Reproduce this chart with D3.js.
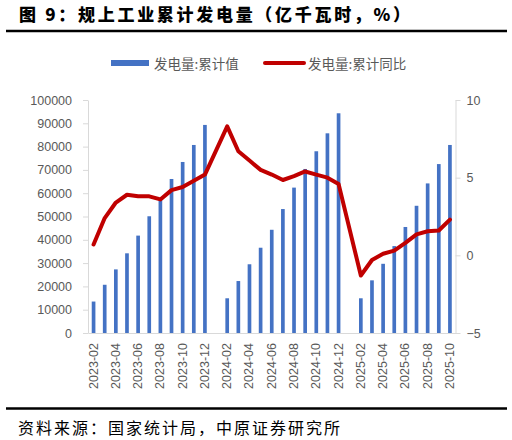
<!DOCTYPE html>
<html>
<head>
<meta charset="utf-8">
<script src="https://cdn.jsdelivr.net/npm/d3@7"></script>
<style>
  body { margin: 0; background: #fff; }
  svg { display: block; }
</style>
</head>
<body>
<div id="chart"></div>
<script>
// months on the category axis (January has no separate release)
const months = [
  "2023-02","2023-03","2023-04","2023-05","2023-06","2023-07","2023-08","2023-09","2023-10","2023-11","2023-12",
  "2024-01","2024-02","2024-03","2024-04","2024-05","2024-06","2024-07","2024-08","2024-09","2024-10","2024-11","2024-12",
  "2025-01","2025-02","2025-03","2025-04","2025-05","2025-06","2025-07","2025-08","2025-09","2025-10"
];
// 发电量:累计值 (亿千瓦时)
const cumValue = [
  13500, 20700, 27300, 34200, 41800, 50100, 57000, 66100, 73400, 80700, 89300,
  null, 14900, 22300, 29500, 36600, 44300, 53200, 62400, 70400, 78000, 85700, 94300,
  null, 14900, 22600, 29700, 37300, 45500, 54600, 64200, 72500, 80700
];
// 发电量:累计同比 (%)
const cumYoY = [
  0.7, 2.4, 3.4, 3.9, 3.8, 3.8, 3.6, 4.2, 4.4, 4.8, 5.2,
  null, 8.3, 6.7, 6.1, 5.5, 5.2, 4.85, 5.1, 5.4, 5.2, 5.0, 4.6,
  null, -1.3, -0.3, 0.1, 0.3, 0.8, 1.35, 1.55, 1.6, 2.3
];
const leftTicks = d3.range(0, 100001, 10000);
const rightTicks = [-5, 0, 5, 10];
const xTickLabels = months.filter((m, i) => i % 2 === 0);

const W = 512, H = 440;
const plot = { left: 88, right: 455.5, top: 100, bottom: 333 };
const numFont = "'Liberation Sans', Arial, sans-serif";
const cjkFont = "'Noto Sans CJK SC', sans-serif";
const axisGray = "#595959";

const svg = d3.select("#chart").append("svg")
    .attr("width", W)
    .attr("height", H);

svg.append("rect").attr("width", W).attr("height", H).attr("fill", "#fff");

// Title + rule
svg.append("text")
    .attr("x", 19).attr("y", 21)
    .attr("font-family", cjkFont)
    .attr("font-weight", 900)
    .attr("font-size", 17)
    .attr("letter-spacing", 2.7)
    .attr("fill", "#000")
    .text("图 9：规上工业累计发电量（亿千瓦时，%）");

svg.append("line")
    .attr("x1", 6).attr("x2", 507).attr("y1", 31).attr("y2", 31)
    .attr("stroke", "#000").attr("stroke-width", 2.4);

// Legend
const legend = svg.append("g").attr("font-family", cjkFont).attr("font-size", 13.5).attr("fill", axisGray);
legend.append("rect").attr("x", 111).attr("y", 60).attr("width", 38).attr("height", 6).attr("fill", "#4472C4");
legend.append("text").attr("x", 154).attr("y", 63).attr("dominant-baseline", "central").text("发电量:累计值");
legend.append("line").attr("x1", 265).attr("x2", 304).attr("y1", 63).attr("y2", 63)
    .attr("stroke", "#C00000").attr("stroke-width", 4).attr("stroke-linecap", "round");
legend.append("text").attr("x", 308).attr("y", 63).attr("dominant-baseline", "central").text("发电量:累计同比");

// Scales
const x = d3.scaleBand().domain(months).range([plot.left, plot.right]);
const yL = d3.scaleLinear().domain([0, 100000]).range([plot.bottom, plot.top]);
const yR = d3.scaleLinear().domain([-5, 10]).range([plot.bottom, plot.top]);

// Left axis
const gL = svg.append("g")
    .attr("transform", `translate(${plot.left},0)`)
    .call(d3.axisLeft(yL).tickValues(leftTicks).tickSize(5).tickSizeOuter(0).tickPadding(11).tickFormat(d3.format("d")));
gL.select(".domain").attr("stroke", "#D9D9D9");
gL.selectAll(".tick line").attr("stroke", "#D9D9D9");
gL.selectAll(".tick text").attr("font-family", numFont).attr("font-size", 12.5).attr("fill", axisGray);

// Right axis
const gR = svg.append("g")
    .attr("transform", `translate(${plot.right},0)`)
    .call(d3.axisRight(yR).tickValues(rightTicks).tickSize(5).tickSizeOuter(0).tickPadding(6));
gR.select(".domain").attr("stroke", "#D9D9D9");
gR.selectAll(".tick line").attr("stroke", "#D9D9D9");
gR.selectAll(".tick text").attr("font-family", numFont).attr("font-size", 12.5).attr("fill", axisGray);

// Bars
const barW = x.bandwidth() * 0.33;
svg.append("g").selectAll("rect")
    .data(months.map((m, i) => ({ m, v: cumValue[i] })).filter(d => d.v !== null))
    .join("rect")
    .attr("x", d => x(d.m) + (x.bandwidth() - barW) / 2)
    .attr("width", barW)
    .attr("y", d => yL(d.v))
    .attr("height", d => yL(0) - yL(d.v))
    .attr("fill", "#4472C4");

// Bottom axis
const gB = svg.append("g")
    .attr("transform", `translate(0,${plot.bottom})`)
    .call(d3.axisBottom(x).tickValues(xTickLabels).tickSize(0).tickSizeOuter(0));
gB.select(".domain").attr("stroke", "#D9D9D9").attr("stroke-width", 1.2);
gB.selectAll(".tick text")
    .attr("font-family", numFont).attr("font-size", 12.5).attr("fill", axisGray)
    .attr("text-anchor", "end")
    .attr("dominant-baseline", "central")
    .attr("dy", null)
    .attr("y", 0)
    .attr("transform", "translate(0,10) rotate(-90)");

// YoY line (gaps at January are spanned)
const linePts = months.map((m, i) => ({ m, v: cumYoY[i] })).filter(d => d.v !== null);
svg.append("path")
    .datum(linePts)
    .attr("fill", "none")
    .attr("stroke", "#C00000")
    .attr("stroke-width", 4)
    .attr("stroke-linejoin", "round")
    .attr("stroke-linecap", "round")
    .attr("d", d3.line().x(d => x(d.m) + x.bandwidth() / 2).y(d => yR(d.v)));

// Footer
svg.append("line")
    .attr("x1", 6).attr("x2", 507).attr("y1", 408.5).attr("y2", 408.5)
    .attr("stroke", "#000").attr("stroke-width", 2.6);

svg.append("text")
    .attr("x", 18).attr("y", 427)
    .attr("dominant-baseline", "central")
    .attr("font-family", cjkFont)
    .attr("font-size", 16)
    .attr("letter-spacing", 2)
    .attr("fill", "#000")
    .text("资料来源：国家统计局，中原证券研究所");
</script>
</body>
</html>
